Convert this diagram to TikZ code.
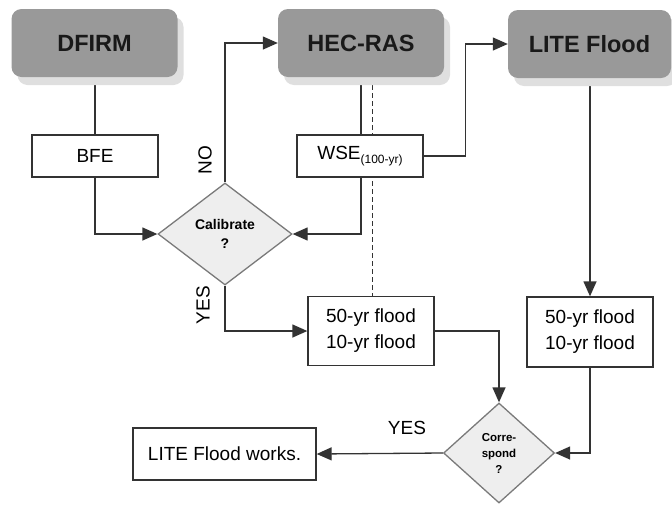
\documentclass[tikz,border=0pt]{standalone}
\usepackage{fontspec}
\setmainfont{Liberation Sans}
\usetikzlibrary{shapes.geometric,arrows.meta,shadows,calc}
\pgfdeclarelayer{background}
\pgfsetlayers{background,main}
\definecolor{boxgray}{HTML}{999999}
\definecolor{shadowgray}{HTML}{DFDFDF}
\definecolor{linegray}{HTML}{333333}
\definecolor{diagray}{HTML}{7A7A7A}
\definecolor{diafill}{HTML}{EEEEEE}
\tikzset{
  tool/.style={rectangle, rounded corners=10pt, fill=boxgray, minimum width=166pt, minimum height=68pt,
    font=\fontsize{23.5}{26}\selectfont\bfseries, text=black!90,
    drop shadow={shadow xshift=6pt, shadow yshift=-8pt, fill=shadowgray, opacity=1}},
  result/.style={rectangle, draw=linegray, line width=1.3pt, fill=white, minimum width=126pt,
    minimum height=42pt, align=center, font=\fontsize{19}{26}\selectfont},
  check/.style={diamond, draw=diagray, line width=1.3pt, fill=diafill, inner sep=0pt, align=center},
  wire/.style={draw=linegray, line width=1.3pt},
  link/.style={wire, -{Triangle[length=15pt,width=13pt]}},
  tag/.style={font=\fontsize{19}{22}\selectfont}
}
\begin{document}
\begin{tikzpicture}[x=1pt,y=-1pt]
    \useasboundingbox (0,0) rectangle (672,504);
    \node[tool] (dfirm) at (94.5,43) {DFIRM};
    \node[tool] (hec) at (361,43) {HEC-RAS};
    \node[tool, minimum width=163pt] (lite) at (589.5,44) {LITE Flood};
    \node[result] (bfe) at (95,156) {BFE};
    \node[result] (wse) at (360,156) {WSE\raisebox{-4pt}{\fontsize{12}{12}\selectfont(100-yr)}};
    \node[check, minimum width=134pt, minimum height=102pt, font=\fontsize{14}{19}\selectfont\bfseries] (cal) at (225,234) {Calibrate\\?};
    \node[result, minimum height=69pt] (floodA) at (371,331) {50-yr flood\\10-yr flood};
    \node[result, minimum height=70pt] (floodB) at (590,332) {50-yr flood\\10-yr flood};
    \node[check, minimum width=111pt, minimum height=100pt, font=\fontsize{11.5}{16}\selectfont\bfseries] (corr) at (499,453) {Corre-\\spond\\?};
    \node[result, minimum width=183pt, minimum height=52pt] (works) at (224.5,454) {LITE Flood works.};
    \node[tag, rotate=90] (no) at (205,160) {NO};
    \node[tag, rotate=90] (yescal) at (203,305) {YES};
    \node[tag] (yescorr) at (407,428) {YES};
    \begin{pgfonlayer}{background}
    \draw[wire] (bfe.north |- dfirm.south) -- (bfe.north);
    \draw[link] (bfe.south) |- (cal.west);
    \draw[link] (cal.north) |- (hec.west);
    \draw[wire] (hec.south) -- (hec.south |- wse.north);
    \draw[link] (hec.south |- wse.south) |- (cal.east);
    \draw[wire, line width=1pt, dash pattern=on 5pt off 3pt] ([xshift=11pt]hec.south) -- ([xshift=11pt]hec.south |- floodA.north);
    \draw[link] (wse.east) -| ($(wse.east)!0.5!(lite.west)$) |- (lite.west);
    \draw[link] (floodB.north |- lite.south) -- (floodB.north);
    \draw[link] (cal.south) |- (floodA.west);
    \draw[link] (floodA.east) -| (corr.north);
    \draw[link] (floodB.south) |- (corr.east);
    \draw[link] (corr.west) -- (works.east);
    \end{pgfonlayer}
\end{tikzpicture}
\end{document}
